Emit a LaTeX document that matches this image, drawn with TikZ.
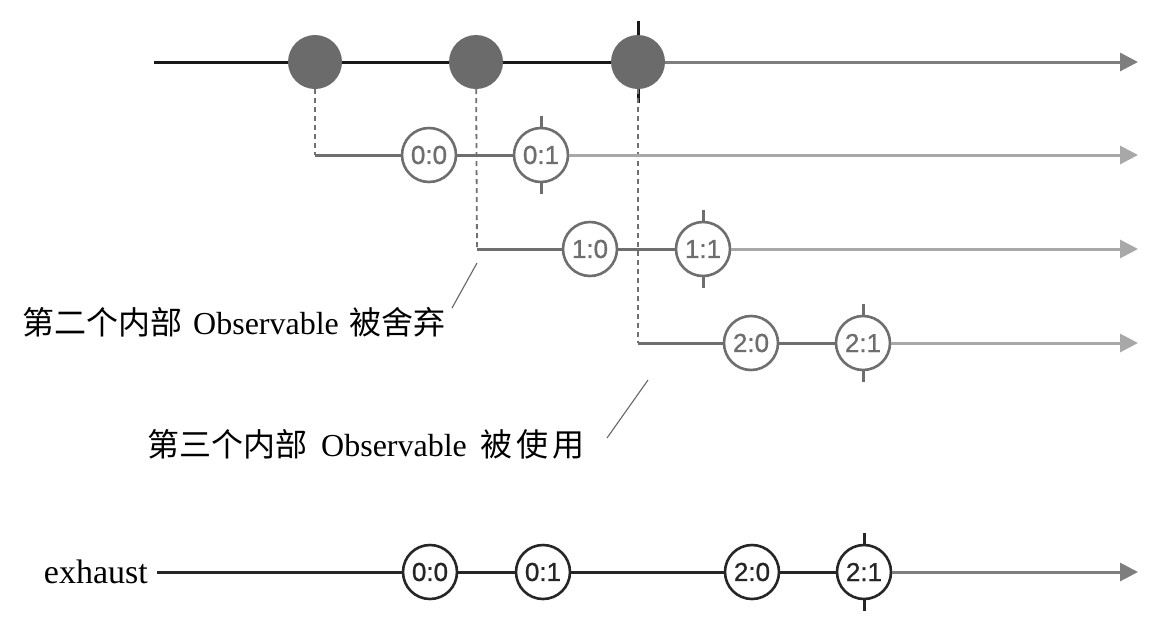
\documentclass[tikz,border=0pt]{standalone}
\usepackage{fontspec}
\setmainfont{Liberation Serif}
\newfontfamily\cjk{Noto Sans CJK SC}
\newfontfamily\lblfont[FakeBold=1]{Liberation Sans}
\usetikzlibrary{arrows.meta}
\definecolor{srcGray}{HTML}{6B6B6B}
\definecolor{innGray}{HTML}{6E6E6E}
\definecolor{fadeGray}{HTML}{A8A8A8}
\definecolor{tailGray}{HTML}{7E7E7E}
\definecolor{dashGray}{HTML}{707070}

\begin{document}
\begin{tikzpicture}[x=1pt,y=-1pt,
  src/.style={circle,fill=srcGray,minimum size=54pt,inner sep=0pt},
  ev/.style={circle,draw=innGray,fill=white,line width=2.6pt,
    minimum size=54pt,inner sep=0pt,text=innGray,
    font=\lblfont\fontsize{26}{28}\selectfont},
  exev/.style={ev,draw=black!85,text=black!85},
  ln/.style={line width=3pt},
  ar/.style={ln,-{Triangle[length=18pt,width=18pt]}},
  tick/.style={line width=3pt},
  dashv/.style={draw=dashGray,line width=1.8pt,dash pattern=on 5pt off 4pt},
  note/.style={inner sep=0pt,font=\fontsize{32}{38}\selectfont},
  slash/.style={draw=black!60,line width=1.1pt}
]
\useasboundingbox (0,0) rectangle (1164,630);

% outer source
\coordinate (t0) at (154,62);
\coordinate (t1) at (1138,62);
\node[src] (s1) at (315,62) {};
\node[src] (s2) at (476,62) {};
\node[src] (s3) at (638,62) {};
\draw[ln,black!90] (t0)--(s1); \draw[ln,black!90] (s1)--(s2); \draw[ln,black!90] (s2)--(s3);
\draw[ar,tailGray] (s3)--(t1);
\draw[tick,black!90] (s3.north)--++(0,-14); \draw[tick,black!90] (s3.south)--++(0,14);

% inner observables
\coordinate (r1s) at (315,155); \coordinate (r1e) at (1138,155);
\coordinate (r2s) at (477,249); \coordinate (r2e) at (1138,249);
\coordinate (r3s) at (638,343); \coordinate (r3e) at (1138,343);
\draw[dashv] (s1)--(r1s);
\draw[dashv] (s2)--(r2s);
\draw[dashv] (s3)--(r3s);

\node[ev] (a0) at (429,155) {0:0};
\node[ev] (a1) at (541,155) {0:1};
\node[ev] (b0) at (590,249) {1:0};
\node[ev] (b1) at (703,249) {1:1};
\node[ev] (c0) at (751,343) {2:0};
\node[ev] (c1) at (863,343) {2:1};

\draw[ln,innGray] (r1s)--(a0); \draw[ln,innGray] (a0)--(a1);
\draw[ar,fadeGray] (a1)--(r1e);
\draw[ln,innGray] (r2s)--(b0); \draw[ln,innGray] (b0)--(b1);
\draw[ar,fadeGray] (b1)--(r2e);
\draw[ln,innGray] (r3s)--(c0); \draw[ln,innGray] (c0)--(c1);
\draw[ar,fadeGray] (c1)--(r3e);
\foreach \n in {a1,b1,c1}{
  \draw[tick,innGray] (\n.north)--++(0,-11);
  \draw[tick,innGray] (\n.south)--++(0,11);
}

% notes
\node[note,anchor=base west] (n1) at (22,334)
  {{\cjk 第二个内部}\hspace{11pt}Observable\hspace{11pt}{\cjk 被舍弃}};
\coordinate (k1a) at (477,263); \coordinate (k1b) at (452,308);
\draw[slash] (k1a)--(k1b);
\node[note,anchor=base west] (n2) at (147,456)
  {{\cjk 第三个内部}\hspace{14pt}Observable\hspace{14pt}{\cjk 被\hspace{4pt}使\hspace{4pt}用}};
\coordinate (k2a) at (648,380); \coordinate (k2b) at (607,438);
\draw[slash] (k2a)--(k2b);

% exhaust result
\node[note,anchor=base east,font=\fontsize{34}{40}\selectfont] (ex) at (148,583) {exhaust};
\coordinate (exs) at (157,572); \coordinate (exe) at (1138,572);
\node[exev] (e0) at (430,572) {0:0};
\node[exev] (e1) at (543,572) {0:1};
\node[exev] (e2) at (752,572) {2:0};
\node[exev] (e3) at (864,572) {2:1};
\draw[ln,black!85] (exs)--(e0); \draw[ln,black!85] (e0)--(e1);
\draw[ln,black!85] (e1)--(e2); \draw[ln,black!85] (e2)--(e3);
\draw[ar,tailGray] (e3)--(exe);
\draw[tick,black!85] (e3.north)--++(0,-11); \draw[tick,black!85] (e3.south)--++(0,11);
\end{tikzpicture}
\end{document}
